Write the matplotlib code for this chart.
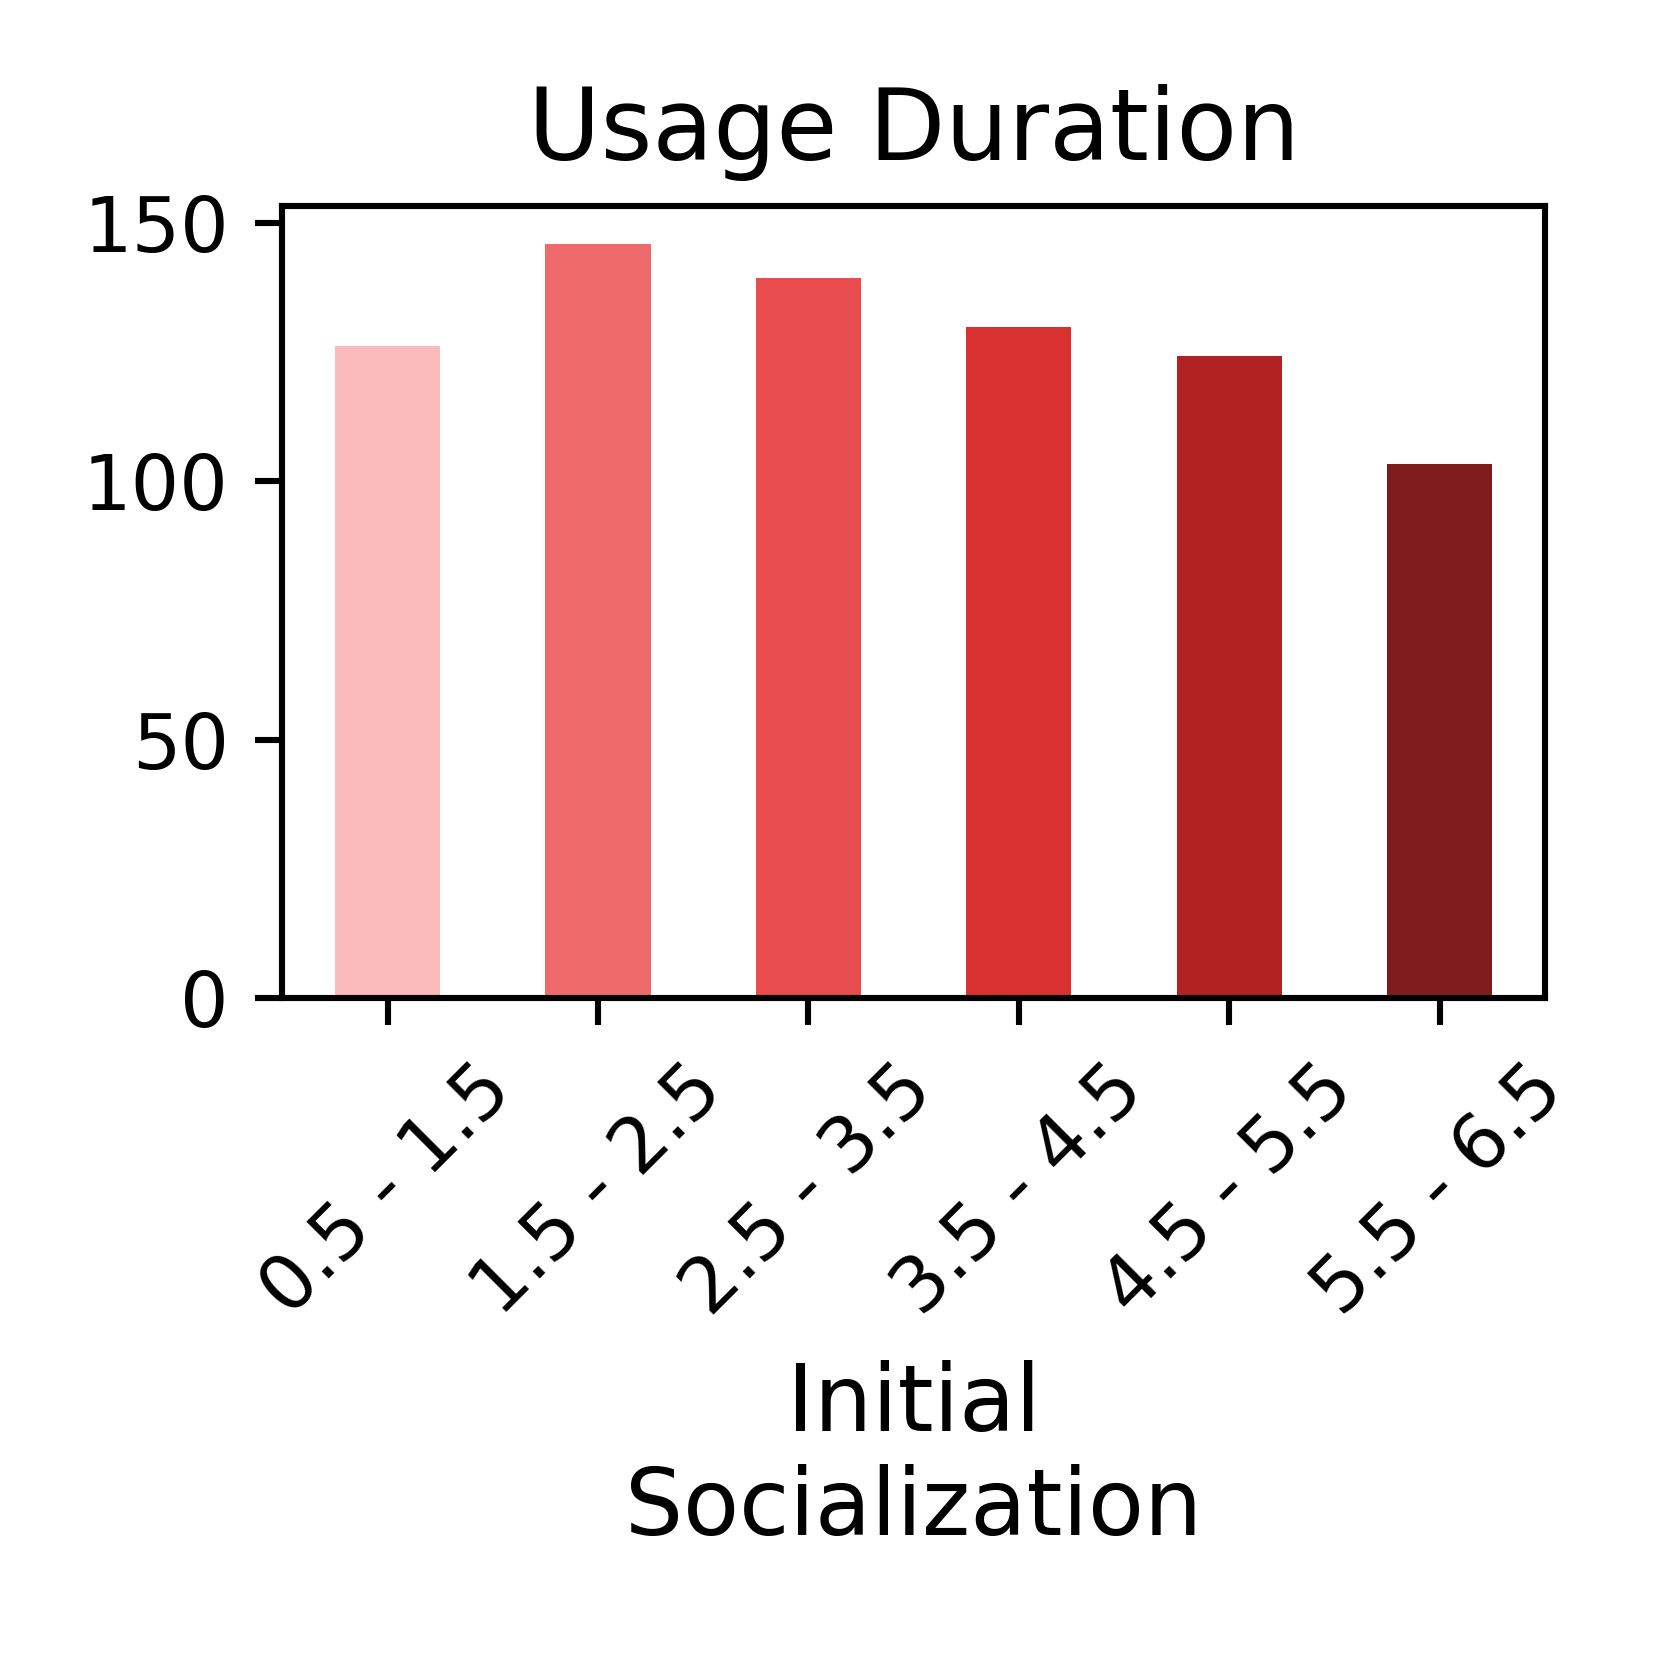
import matplotlib
matplotlib.use("Agg")
import matplotlib.pyplot as plt

# Data
categories = ["0.5 - 1.5", "1.5 - 2.5", "2.5 - 3.5", "3.5 - 4.5", "4.5 - 5.5", "5.5 - 6.5"]
usage_duration = [126.3, 146.0, 139.3, 129.9, 124.3, 103.4]
bar_colors = ["#fbbbbc", "#ef6b6b", "#e84c4c", "#d83130", "#b22222", "#811c1d"]

fig = plt.figure(figsize=(1661 / 550, 1661 / 550), dpi=550)
ax = fig.add_axes([0.170, 0.399, 0.760, 0.477])

x = list(range(len(categories)))
ax.bar(x, usage_duration, width=0.5, color=bar_colors, linewidth=0)

ax.set_xlim(-0.5, 5.5)
ax.set_xticks(x)
ax.set_xticklabels(categories, rotation=45, fontsize=10)
ax.set_yticks([0, 50, 100, 150])
ax.tick_params(axis="y", labelsize=10)

ax.set_title("Usage Duration", fontsize=13)
ax.set_xlabel("Initial\nSocialization", fontsize=12)

fig.savefig("out.png", dpi=550)
